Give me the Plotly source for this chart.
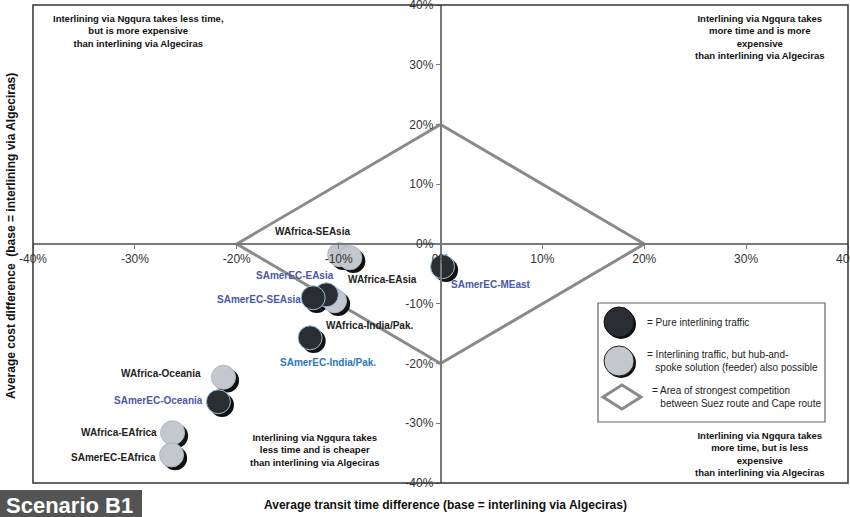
import plotly.graph_objects as go

# ---------------- data ----------------
routes = ["WAfrica-SEAsia", "WAfrica-EAsia", "SAmerEC-EAsia", "SAmerEC-SEAsia",
          "WAfrica-India/Pak.", "SAmerEC-India/Pak.", "SAmerEC-MEast",
          "WAfrica-Oceania", "SAmerEC-Oceania", "WAfrica-EAfrica", "SAmerEC-EAfrica"]
time_diff = [-9.9, -8.9, -11.2, -12.5, -10.4, -12.8, 0.2, -21.3, -21.8, -26.3, -26.4]
cost_diff = [-1.8, -2.3, -8.5, -9.0, -9.5, -15.7, -3.8, -22.3, -26.4, -31.6, -35.3]
traffic_type = ["feeder", "feeder", "pure", "pure", "feeder", "pure", "pure",
                "feeder", "pure", "feeder", "feeder"]

diamond_x = [-20, 0, 20, 0, -20]
diamond_y = [0, 20, 0, -20, 0]

tick_vals = [-40, -30, -20, -10, 0, 10, 20, 30, 40]
tick_text = ["-40%", "-30%", "-20%", "-10%", "0%", "10%", "20%", "30%", "40%"]

# ---------------- styling ----------------
label_color = ["#222222", "#222222", "#4a58a8", "#4a58a8", "#222222", "#2a78c0", "#4a58a8",
               "#222222", "#4a58a8", "#222222", "#222222"]
label_dx = [-27, 33, -31, -54, 35, 18, 48, -63, -60, -54, -58]
label_dy = [23, -22, 19, -2, -25, -25, -18, 4, 1, 0, -3]

W, H = 850, 517
ML, MR, MT, MB = 33, 2, 5, 34
PW, PH = W - ML - MR, H - MT - MB


def px(x):
    return (x - ML) / PW


def py(y):
    return (H - MB - y) / PH


FONT = "Arial, Liberation Sans, sans-serif"

fig = go.Figure()

# diamond (area of strongest competition)
fig.add_trace(go.Scatter(x=diamond_x, y=diamond_y, mode="lines",
                         line=dict(color="#8a8a8a", width=3), hoverinfo="skip",
                         showlegend=False))

# shadows
sx = [v + 0.35 for v in time_diff]
sy = [v - 0.55 for v in cost_diff]
fig.add_trace(go.Scatter(x=sx, y=sy, mode="markers",
                         marker=dict(size=24, color="#111111", line=dict(width=0)),
                         hoverinfo="skip", showlegend=False))

fx = [x for x, t in zip(time_diff, traffic_type) if t == "feeder"]
fy = [y for y, t in zip(cost_diff, traffic_type) if t == "feeder"]
bx = [x for x, t in zip(time_diff, traffic_type) if t == "pure"]
by = [y for y, t in zip(cost_diff, traffic_type) if t == "pure"]

fig.add_trace(go.Scatter(x=fx, y=fy, mode="markers",
                         marker=dict(size=24, color="#c4c8cc",
                                     line=dict(color="#a9b8c6", width=1)),
                         showlegend=False))
fig.add_trace(go.Scatter(x=bx, y=by, mode="markers",
                         marker=dict(size=24, color="#2a2d31",
                                     line=dict(color="#9cc0dc", width=1)),
                         showlegend=False))

annotations = []
for r, x, y, c, dx, dy in zip(routes, time_diff, cost_diff, label_color, label_dx, label_dy):
    annotations.append(dict(x=x, y=y, xref="x", yref="y", text="<b>%s</b>" % r,
                            showarrow=False, xshift=dx, yshift=dy,
                            xanchor="center", yanchor="middle",
                            font=dict(family=FONT, size=10, color=c)))


def pann(x, y, text, font, xanchor="center", align="center", **kw):
    d = dict(x=px(x), y=py(y), xref="paper", yref="paper", showarrow=False,
             xanchor=xanchor, yanchor="middle", align=align, text=text, font=font)
    d.update(kw)
    return d


quad_font = dict(family=FONT, size=9.5, color="#111111")
annotations += [
    pann(138, 31, "<b>Interlining via Ngqura takes less time,<br>but is more expensive<br>than interlining via Algeciras</b>", quad_font),
    pann(760, 37, "<b>Interlining via Ngqura takes<br>more time and is more<br>expensive<br>than interlining via Algeciras</b>", quad_font),
    pann(315, 450, "<b>Interlining via Ngqura takes<br>less time and is cheaper<br>than interlining via Algeciras</b>", quad_font),
    pann(760, 454, "<b>Interlining via Ngqura takes<br>more time, but is less<br>expensive<br>than interlining via Algeciras</b>", quad_font),
]

# axis titles
annotations += [
    pann(445, 505, "<b>Average transit time difference (base = interlining via Algeciras)</b>",
         dict(family=FONT, size=12, color="#111111")),
    pann(11, 236, "<b>Average cost difference  (base = interlining via Algeciras)</b>",
         dict(family=FONT, size=12, color="#111111"), textangle=-90),
    pann(69, 505, "<b>Scenario B1</b>", dict(family=FONT, size=22, color="white")),
]

# legend texts
leg_font = dict(family=FONT, size=10, color="#222222")
annotations += [
    pann(645, 322, "= Pure interlining traffic", leg_font, xanchor="left", align="left"),
    pann(645, 361, "= Interlining traffic, but hub-and-<br>   spoke solution (feeder) also possible",
         leg_font, xanchor="left", align="left"),
    pann(650, 397, "= Area of strongest competition<br>   between Suez route and Cape route",
         leg_font, xanchor="left", align="left"),
]

shapes = [
    # plot frame
    dict(type="rect", xref="paper", yref="paper", x0=0, x1=1, y0=0, y1=1,
         line=dict(color="#333333", width=1.5), layer="above"),
    # scenario box
    dict(type="rect", xref="paper", yref="paper", x0=px(0), x1=px(142), y0=py(490), y1=py(517),
         fillcolor="#545454", line=dict(width=0)),
    # legend box
    dict(type="rect", xref="paper", yref="paper", x0=px(598), x1=px(825), y0=py(303), y1=py(422),
         fillcolor="white", line=dict(color="#666666", width=1.2), layer="above"),
    # legend circles (shadows + fills)
    dict(type="circle", xref="paper", yref="paper", x0=px(606), x1=px(636), y0=py(309), y1=py(339),
         fillcolor="#111111", line=dict(width=0), layer="above"),
    dict(type="circle", xref="paper", yref="paper", x0=px(604), x1=px(634), y0=py(307), y1=py(337),
         fillcolor="#2a2d31", line=dict(color="#111111", width=1), layer="above"),
    dict(type="circle", xref="paper", yref="paper", x0=px(606), x1=px(636), y0=py(348), y1=py(378),
         fillcolor="#111111", line=dict(width=0), layer="above"),
    dict(type="circle", xref="paper", yref="paper", x0=px(604), x1=px(634), y0=py(346), y1=py(376),
         fillcolor="#c4c8cc", line=dict(color="#222222", width=1), layer="above"),
    # legend diamond
    dict(type="path", xref="paper", yref="paper", layer="above",
         path="M %f %f L %f %f L %f %f L %f %f Z" % (px(603), py(397), px(622), py(385),
                                                     px(641), py(397), px(622), py(409)),
         line=dict(color="#8a8a8a", width=3), fillcolor="white"),
]

axis_common = dict(range=[-40, 40], tickvals=tick_vals, ticktext=tick_text,
                   showgrid=False, zeroline=False, showline=True, linecolor="#7a7a7a",
                   linewidth=1.5, ticks="outside", ticklen=4, tickcolor="#7a7a7a",
                   tickfont=dict(family=FONT, size=12, color="#333333"),
                   anchor="free", position=0.5, fixedrange=True,
                   automargin=False, ticklabeloverflow="allow")

fig.update_layout(
    width=W, height=H,
    margin=dict(l=ML, r=MR, t=MT, b=MB, autoexpand=False),
    paper_bgcolor="white", plot_bgcolor="white",
    xaxis=axis_common,
    yaxis=axis_common,
    showlegend=False,
    annotations=annotations,
    shapes=shapes,
)

fig.write_html("out.html", config={"displayModeBar": False},
               post_script="document.body.style.margin='0';document.body.style.overflow='hidden';")
